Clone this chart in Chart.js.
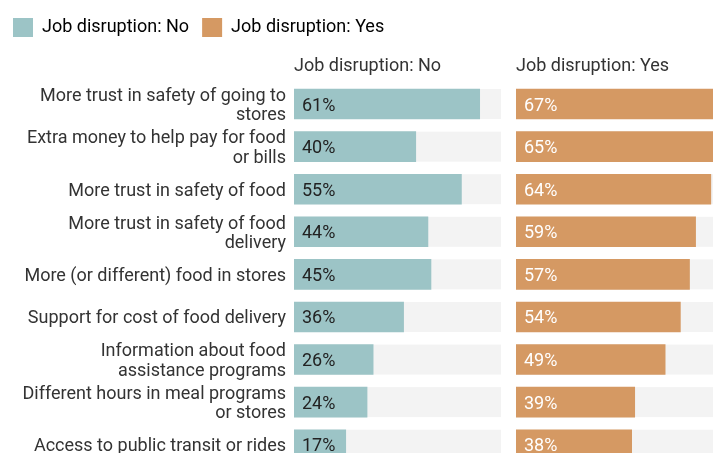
<!DOCTYPE html>
<html>
<head>
<meta charset="utf-8">
<script src="https://cdn.jsdelivr.net/npm/chart.js@4"></script>
<style>
html,body{margin:0;padding:0;overflow:hidden;background:#fff;}
#wrap{position:relative;width:740px;height:466px;}
#p1{position:absolute;left:0;top:0;width:501px;height:466px;}
#p2{position:absolute;left:516px;top:0;width:207px;height:466px;}
</style>
</head>
<body>
<div id="wrap">
  <div id="p1"><canvas id="c1"></canvas></div>
  <div id="p2"><canvas id="c2"></canvas></div>
</div>
<script>
const categories = [
  ["More trust in safety of going to", "stores"],
  ["Extra money to help pay for food", "or bills"],
  "More trust in safety of food",
  ["More trust in safety of food", "delivery"],
  "More (or different) food in stores",
  "Support for cost of food delivery",
  ["Information about food", "assistance programs"],
  ["Different hours in meal programs", "or stores"],
  "Access to public transit or rides"
];
const seriesNames = ["Job disruption: No", "Job disruption: Yes"];
const noValues  = [61, 40, 55, 44, 45, 36, 26, 24, 17];
const yesValues = [67, 65, 64, 59, 57, 54, 49, 39, 38];
const axisMax = 68;

const COLORS = { no: '#9cc4c6', yes: '#d59963', track: '#f3f3f3', text: '#333333' };
const FONT = 'Roboto';
Chart.defaults.font.family = FONT;
Chart.defaults.color = COLORS.text;

const TITLE_CENTER = 66;   // panel title centre line
const AREA_TOP = 82.75;    // top of plotting area
const TITLE_LH = 21.6;

const trackPlugin = {
  id: 'track',
  beforeDatasetsDraw(chart) {
    const ctx = chart.ctx, area = chart.chartArea;
    const meta = chart.getDatasetMeta(0);
    ctx.save();
    ctx.fillStyle = COLORS.track;
    meta.data.forEach(el => {
      ctx.fillRect(area.left, el.y - el.height / 2, area.right - area.left, el.height);
    });
    ctx.restore();
  }
};
const labelPlugin = {
  id: 'valueLabels',
  afterDatasetsDraw(chart, args, opts) {
    const ctx = chart.ctx;
    const meta = chart.getDatasetMeta(0);
    const data = chart.data.datasets[0].data;
    ctx.save();
    ctx.font = '18px ' + FONT;
    ctx.fillStyle = opts.color;
    ctx.textAlign = 'left';
    ctx.textBaseline = 'middle';
    meta.data.forEach((el, i) => {
      ctx.fillText(data[i] + '%', el.base + 8, el.y + 2);
    });
    ctx.restore();
  }
};

function xScale(title) {
  return {
    type: 'linear', position: 'top', min: 0, max: axisMax,
    grid: { display: false, drawTicks: false },
    border: { display: false },
    ticks: { display: false },
    title: { display: true, text: title, align: 'start', color: COLORS.text,
             font: { size: 18, family: FONT, lineHeight: 1.2 },
             padding: { top: 7, bottom: 6 } }
  };
}

const c1 = new Chart(document.getElementById('c1'), {
  type: 'bar',
  data: { labels: categories, datasets: [{ label: seriesNames[0], data: noValues, backgroundColor: COLORS.no, barThickness: 30 }] },
  options: {
    indexAxis: 'y', responsive: true, maintainAspectRatio: false, animation: false,
    layout: { padding: { top: 5, left: 0, right: 0, bottom: 0 } },
    scales: {
      x: xScale(seriesNames[0]),
      y: {
        grid: { display: false, drawTicks: false }, border: { display: false },
        ticks: { padding: 8, autoSkip: false, labelOffset: 2, color: COLORS.text, font: { size: 18, family: FONT, lineHeight: 1.07 } },
        afterFit(s) { s.width = 294; s.paddingTop = 0; s.paddingBottom = 0; }
      }
    },
    plugins: {
      tooltip: { enabled: false },
      valueLabels: { color: '#222222' },
      legend: {
        display: true, position: 'top', align: 'start',
        onClick: null,
        labels: {
          boxWidth: 20, boxHeight: 19, padding: 13, color: COLORS.text,
          font: { size: 18, family: FONT },
          generateLabels() {
            return [
              { text: seriesNames[0], fillStyle: COLORS.no, strokeStyle: COLORS.no, lineWidth: 0, hidden: false, datasetIndex: 0 },
              { text: seriesNames[1], fillStyle: COLORS.yes, strokeStyle: COLORS.yes, lineWidth: 0, hidden: false, datasetIndex: 1 }
            ];
          }
        }
      }
    }
  },
  plugins: [trackPlugin, labelPlugin]
});

// align the panel titles and plot areas under the legend
const legendBottom = c1.legend.bottom;
const padTop = TITLE_CENTER - TITLE_LH / 2 - legendBottom;
const padBottom = AREA_TOP - (TITLE_CENTER + TITLE_LH / 2);
c1.options.scales.x.title.padding = { top: padTop, bottom: padBottom };
c1.update();

const xs2 = xScale(seriesNames[1]);
xs2.title.padding = { top: padTop, bottom: padBottom };

new Chart(document.getElementById('c2'), {
  type: 'bar',
  data: { labels: categories, datasets: [{ label: seriesNames[1], data: yesValues, backgroundColor: COLORS.yes, barThickness: 30 }] },
  options: {
    indexAxis: 'y', responsive: true, maintainAspectRatio: false, animation: false,
    layout: { padding: { top: legendBottom, left: 0, right: 0, bottom: 0 } },
    scales: {
      x: xs2,
      y: { display: false }
    },
    plugins: {
      tooltip: { enabled: false },
      legend: { display: false },
      valueLabels: { color: '#ffffff' }
    }
  },
  plugins: [trackPlugin, labelPlugin]
});
</script>
</body>
</html>
